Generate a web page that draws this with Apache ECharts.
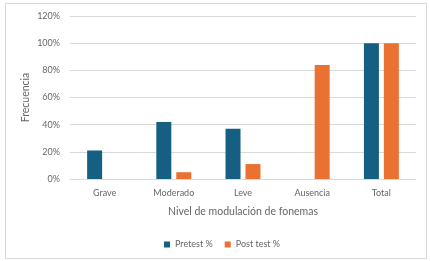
<!DOCTYPE html>
<html>
<head>
<meta charset="utf-8">
<script src="https://cdn.jsdelivr.net/npm/echarts@6/dist/echarts.min.js"></script>
<style>
  html, body {margin: 0; padding: 0; background: #fff;}
  #frame {position: absolute; left: 5px; top: 3px; width: 420px; height: 254px; border: 1px solid #d9d9d9;}
  #chart {position: absolute; left: 0; top: 0; width: 430px; height: 261px;}
</style>
</head>
<body>
<div id="frame"></div>
<div id="chart"></div>
<script>
const categories = ['Grave', 'Moderado', 'Leve', 'Ausencia', 'Total'];
const pretest = [21, 42, 37, 0, 100];
const posttest = [0, 5, 11, 84, 100];
const seriesNames = ['Pretest %', 'Post test %'];

const font = 'Lato, "Open Sans", sans-serif';
const grey = '#666666';
const chart = echarts.init(document.getElementById('chart'));
chart.setOption({
    animation: false,
    color: ['#156082', '#E97132'],
    textStyle: {fontFamily: font, color: grey},
    grid: {left: 70, right: 14, top: 16, bottom: 82},
    legend: {
        data: seriesNames,
        left: 159,
        top: 235,
        itemWidth: 6,
        itemHeight: 6,
        itemGap: 12,
        icon: 'rect',
        textStyle: {fontSize: 9, color: grey, fontFamily: font}
    },
    xAxis: {
        type: 'category',
        data: categories,
        name: 'Nivel de modulación de fonemas',
        nameLocation: 'middle',
        nameGap: 27,
        nameMoveOverlap: false,
        nameTextStyle: {fontSize: 10.5, color: grey},
        axisTick: {show: false},
        axisLine: {lineStyle: {color: '#d9d9d9'}},
        axisLabel: {fontSize: 9, color: grey, margin: 10}
    },
    yAxis: {
        type: 'value',
        min: 0,
        max: 120,
        interval: 20,
        name: 'Frecuencia',
        nameLocation: 'middle',
        nameGap: 39,
        nameMoveOverlap: false,
        nameTextStyle: {fontSize: 10.5, color: grey},
        axisLine: {show: false},
        axisTick: {show: false},
        axisLabel: {fontSize: 9, color: grey, margin: 10, formatter: '{value}%'},
        splitLine: {lineStyle: {color: '#d9d9d9'}}
    },
    series: [
        {name: seriesNames[0], type: 'bar', data: pretest, barWidth: 15, barGap: '33%'},
        {name: seriesNames[1], type: 'bar', data: posttest, barWidth: 15, barGap: '33%'}
    ]
});
</script>
</body>
</html>
